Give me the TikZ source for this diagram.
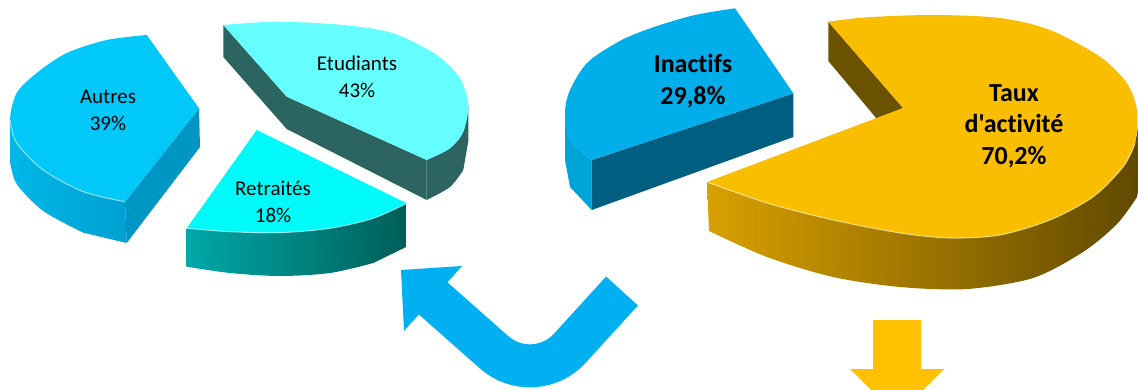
\documentclass[tikz,border=0pt]{standalone}
\usepackage{fontspec}
\setmainfont{Carlito}[Ligatures={TeXOff,CommonOff}]
\definecolor{autTop}{RGB}{0,200,248}
\definecolor{autSideL}{RGB}{0,184,232}
\definecolor{autSideR}{RGB}{0,160,208}
\definecolor{autFace}{RGB}{0,150,196}
\definecolor{etuTop}{RGB}{102,255,255}
\definecolor{etuSide}{RGB}{43,100,97}
\definecolor{retTop}{RGB}{0,250,250}
\definecolor{retSideL}{RGB}{0,168,168}
\definecolor{retSideR}{RGB}{0,94,88}
\definecolor{inaTop}{RGB}{0,174,234}
\definecolor{inaFace}{RGB}{0,94,128}
\definecolor{inaSide}{RGB}{0,164,216}
\definecolor{tauTop}{RGB}{249,190,0}
\definecolor{tauSideL}{RGB}{216,160,0}
\definecolor{tauSideM}{RGB}{160,120,0}
\definecolor{tauSideR}{RGB}{96,72,0}
\definecolor{tauFace}{RGB}{107,82,0}
\definecolor{arrowBlue}{RGB}{0,176,240}
\definecolor{arrowGold}{RGB}{255,192,0}
\begin{document}
\begin{tikzpicture}[x=1pt,y=-1pt,
  lblreg/.style={align=center, text=black, inner sep=0pt, font=\fontsize{21}{27}\selectfont},
  lblbold/.style={align=center, text=black, inner sep=0pt, font=\fontsize{26}{31.5}\selectfont\bfseries},
  rim/.style={draw=white, draw opacity=0.45, line width=1.2pt}]
\clip (0,0) rectangle (1138,390);
\fill[white] (0,0) rectangle (1138,390);

% ---------- Autres ----------
\shade[left color=autSideL, right color=autSideR]
  plot[smooth] coordinates {(10,120) (16.7,143) (43.3,170) (83.3,191.7) (125,201.7)}
  -- (126.7,243)
  -- plot[smooth] coordinates {(83.3,232.7) (43.3,211) (16.7,184) (10,161)} -- cycle;
\fill[autFace] (199,108.3) -- (125,201.7) -- (126.7,243) -- (200,147) -- cycle;
\fill[autTop] (146.7,35) -- (199,108.3) -- (125,201.7)
  -- plot[smooth] coordinates {(125,201.7) (83.3,191.7) (43.3,170) (16.7,143) (10,120) (16.7,93) (36.7,73) (66.7,53) (106.7,40) (146.7,35)} -- cycle;
\draw[rim] plot[smooth] coordinates {(125,201.7) (83.3,191.7) (43.3,170) (16.7,143) (10,120)};

% ---------- Etudiants ----------
\fill[etuSide] (223.3,25) -- (286.7,96.7) -- (426.7,160) -- (426.7,200) -- (286.7,129) -- (223.3,57) -- cycle;
\fill[etuSide]
  plot[smooth] coordinates {(426.7,160) (450,148.3) (463.3,131.7) (468.3,105)}
  -- (468.3,141)
  -- plot[smooth] coordinates {(463.3,170) (450,187) (426.7,200)} -- cycle;
\fill[etuTop] (223.3,25)
  -- plot[smooth] coordinates {(223.3,25) (276.7,21.7) (343.3,25) (393.3,33.3) (436.7,55) (460,78.3) (468.3,105) (463.3,131.7) (450,148.3) (426.7,160)}
  -- (286.7,96.7) -- cycle;

% ---------- Retraites ----------
\shade[left color=retSideL, right color=retSideR]
  plot[smooth] coordinates {(186.7,228.3) (230,231.7) (280,232.7) (330,228.3) (373.3,218.3) (406.7,203.3)}
  -- (406.7,246.7)
  -- plot[smooth] coordinates {(373.3,263) (330,273) (280,276) (230,273) (186.7,266.7)} -- cycle;
\fill[retTop] (256.7,130) -- (186.7,228.3)
  -- plot[smooth] coordinates {(186.7,228.3) (230,231.7) (280,232.7) (330,228.3) (373.3,218.3) (406.7,203.3)} -- cycle;
\draw[rim] plot[smooth] coordinates {(186.7,228.3) (230,231.7) (280,232.7) (330,228.3) (373.3,218.3) (406.7,203.3)};

% ---------- Inactifs ----------
\fill[inaSide]
  plot[smooth] coordinates {(565,113) (570,140) (591.7,160)}
  -- (591.7,210)
  -- plot[smooth] coordinates {(570,187) (565,160)} -- cycle;
\fill[inaFace] (591.7,160) -- (793.3,93.3) -- (793.3,137) -- (591.7,210) -- cycle;
\fill[inaTop] (735,8.3) -- (793.3,93.3) -- (591.7,160)
  -- plot[smooth] coordinates {(591.7,160) (570,140) (565,113) (570,90) (588,62) (621.7,40) (655,26.7) (695,15) (735,8.3)} -- cycle;

% ---------- Taux d'activite ----------
\fill[tauFace] (828.3,21.7) -- (903,108) -- (903,150) -- (828.3,61) -- cycle;
\shade[left color=tauSideL, middle color=tauSideM, right color=tauSideR]
  plot[smooth] coordinates {(707,182) (767,203) (833,220) (900,233) (950,238) (1000,235) (1050,220) (1093,197) (1123,167) (1135,143) (1140,110)}
  -- (1142,170)
  -- plot[smooth] coordinates {(1137,197) (1117,224) (1083,252) (1033,278) (967,289) (900,287) (833,277) (767,257) (709,231)} -- cycle;
\fill[tauTop] (828.3,21.7)
  -- plot[smooth] coordinates {(828.3,21.7) (866.7,17.3) (933,15) (1000,18) (1050,30) (1100,56.7) (1126.7,83) (1137,110) (1135,143) (1123,167) (1093,197) (1050,220) (1000,235) (950,238) (900,233) (833,220) (767,203) (707,182)}
  -- (903,108) -- cycle;
\draw[rim] plot[smooth] coordinates {(1135,143) (1123,167) (1093,197) (1050,220) (1000,235) (950,238) (900,233) (833,220) (767,203) (707,182)};

% ---------- labels ----------
\node[lblreg] (autres) at (108,110) {Autres\\39\%};
\node[lblreg] (etudiants) at (357,77) {Etudiants\\43\%};
\node[lblreg] (retraites) at (273,202) {Retraités\\18\%};
\node[lblbold] (inactifs) at (693,81) {Inactifs\\29,8\%};
\node[lblbold] (taux) at (1014,126) {Taux\\d'activité\\70,2\%};

% ---------- blue bent arrow ----------
\coordinate (bs) at (622,291);
\coordinate (bk) at (534,387.5);
\coordinate (be) at (431,296.5);
\coordinate (btip) at (401,270);
\coordinate (bb1) at (462,266);
\coordinate (bb2) at (404,331);
\draw[arrowBlue, line width=43pt, rounded corners=53pt] (bs) -- (bk) -- (be);
\fill[arrowBlue] (btip) -- (bb1) -- (bb2) -- cycle;

% ---------- gold down arrow ----------
\coordinate (ga) at (873,320);
\fill[arrowGold] (ga) -- (921,320) -- (921,369) -- (944,369) -- (923,390) -- (871,390) -- (850,369) -- (873,369) -- cycle;
\end{tikzpicture}
\end{document}
